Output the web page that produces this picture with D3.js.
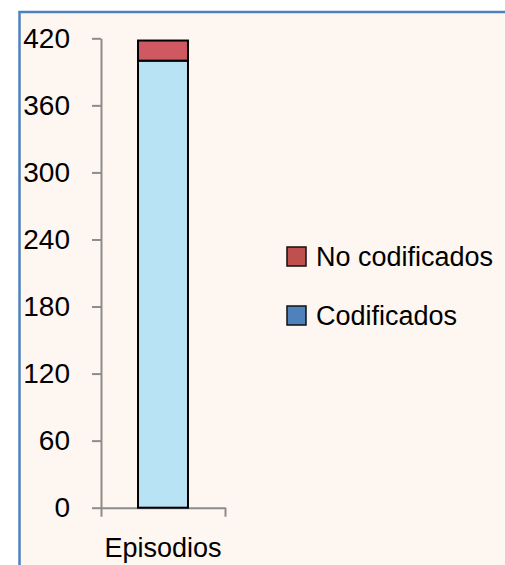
<!DOCTYPE html>
<html><head><meta charset="utf-8">
<script src="https://cdn.jsdelivr.net/npm/d3@7"></script>
<style>html,body{margin:0;padding:0;background:#fff;}svg{display:block;}</style>
</head><body>
<script>
const categories = ["Episodios"];
const seriesNames = ["Codificados", "No codificados"];
const codificados = [400];
const noCodificados = [18];
const yTicks = [0, 60, 120, 180, 240, 300, 360, 420];
const colors = {"Codificados": "#B7E3F5", "No codificados": "#CF5862"};
const legendColors = {"Codificados": "#4F81BD", "No codificados": "#C0504D"};

const W = 505, H = 565;
const svg = d3.select("body").append("svg").attr("width", W).attr("height", H);
const font = "'Liberation Sans', Arial, sans-serif";

// frame
svg.append("rect").attr("x", 19.5).attr("y", 12).attr("width", 520).attr("height", 600)
  .attr("fill", "#FEF6F1").attr("stroke", "#4F81BD").attr("stroke-width", 2.5);

const y = d3.scaleLinear().domain([0, 420]).range([507.7, 38.3]);
const x = d3.scaleBand().domain(categories).range([101, 225]).padding(0.4255);

const data = categories.map((c, i) => ({cat: c, "Codificados": codificados[i], "No codificados": noCodificados[i]}));
const stack = d3.stack().keys(seriesNames)(data);

// y axis
const yAxis = svg.append("g").attr("transform", "translate(101,0)")
  .call(d3.axisLeft(y).tickValues(yTicks).tickSize(9).tickSizeOuter(0).tickPadding(22));
yAxis.select(".domain").attr("stroke", "#8C8C8C").attr("stroke-width", 2);
yAxis.selectAll(".tick line").attr("stroke", "#8C8C8C").attr("stroke-width", 2);
yAxis.selectAll(".tick text").attr("font-family", font).attr("font-size", 28).attr("fill", "#000");

// x axis boundary ticks
const xb = d3.scaleLinear().domain([0, 1]).range([101, 225]);
const xAxis = svg.append("g").attr("transform", `translate(0,${y(0)})`)
  .call(d3.axisBottom(xb).tickValues([0, 1]).tickSize(9).tickSizeOuter(0).tickFormat(""));
xAxis.select(".domain").attr("stroke", "#8C8C8C").attr("stroke-width", 2);
xAxis.selectAll(".tick line").attr("stroke", "#8C8C8C").attr("stroke-width", 2);

// category label
svg.append("g").selectAll("text").data(categories).join("text")
  .attr("x", d => x(d) + x.bandwidth() / 2).attr("y", 557)
  .attr("text-anchor", "middle").attr("font-family", font).attr("font-size", 27).attr("fill", "#000")
  .text(d => d);

// bars
svg.append("g").selectAll("g").data(stack).join("g")
  .attr("fill", d => colors[d.key])
  .selectAll("rect").data(d => d).join("rect")
  .attr("x", d => x(d.data.cat)).attr("width", x.bandwidth())
  .attr("y", d => y(d[1])).attr("height", d => y(d[0]) - y(d[1]))
  .attr("stroke", "#000").attr("stroke-width", 2);

// legend
const legendItems = ["No codificados", "Codificados"];
const lg = svg.append("g").selectAll("g").data(legendItems).join("g")
  .attr("transform", (d, i) => `translate(287,${256.5 + i * 59})`);
lg.append("rect").attr("x", 0).attr("y", -9.5).attr("width", 19).attr("height", 19)
  .attr("fill", d => legendColors[d]).attr("stroke", "#111").attr("stroke-width", 1.5);
lg.append("text").attr("x", 29).attr("y", 0).attr("dy", "0.35em")
  .attr("font-family", font).attr("font-size", 27).attr("fill", "#000").text(d => d);
</script>
</body></html>
